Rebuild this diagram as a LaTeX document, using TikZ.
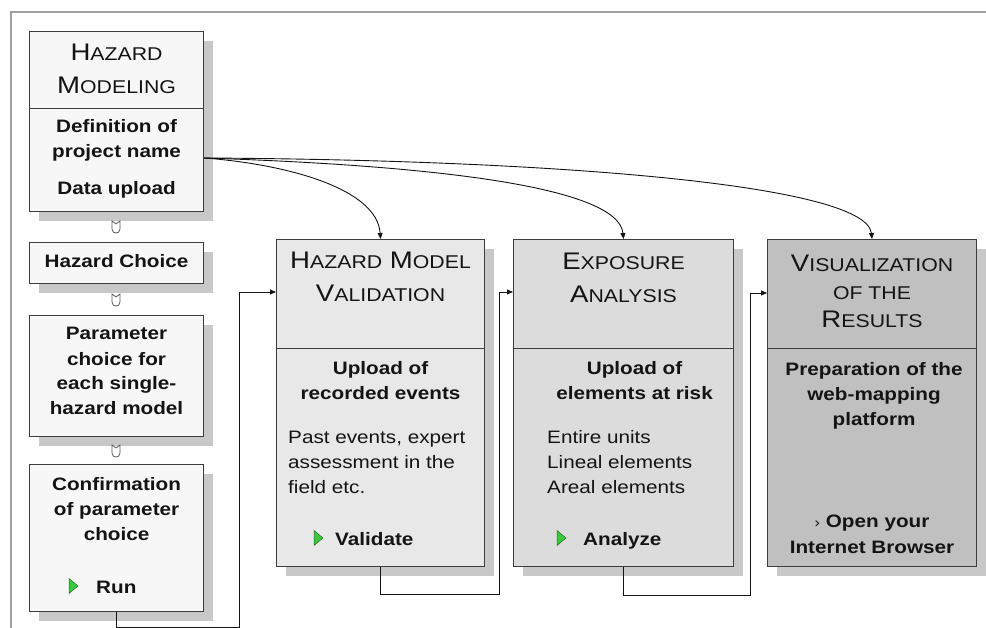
\documentclass[tikz,border=0pt]{standalone}
\usepackage{fontspec}
\setmainfont[FakeStretch=1.15]{Liberation Sans}
\usetikzlibrary{calc,arrows.meta,shadows}

\definecolor{framegray}{HTML}{A0A0A0}
\definecolor{edgegray}{HTML}{3C3C3C}
\definecolor{inkblack}{HTML}{141414}
\definecolor{paperwhite}{HTML}{F7F7F7}
\definecolor{validgray}{HTML}{E8E8E8}
\definecolor{expogray}{HTML}{DCDCDC}
\definecolor{visgray}{HTML}{C0C0C0}
\definecolor{shadowgray}{HTML}{C8C8C8}
\definecolor{playgreen}{HTML}{3CC83C}

% faked small caps: big first letter, rest in smaller capitals
\newcommand{\capword}[2]{{\fontsize{24}{24}\selectfont #1}{\fontsize{18.5}{18.5}\selectfont #2}}

\begin{document}
\begin{tikzpicture}[
        %We work in points, y running downwards
        x=1pt, y=-1pt,
        frame line/.style={draw=framegray, line width=1.5pt},
        stage box/.style={draw=edgegray, line width=1.1pt, inner sep=0pt, anchor=north west,
            drop shadow={shadow xshift=9pt, shadow yshift=-9pt, fill=shadowgray, opacity=1}},
        divider line/.style={draw=edgegray, line width=0.9pt},
        % text nodes sit on the baseline of their last line
        title text/.style={anchor=base, align=center, inner sep=0pt, text=inkblack,
            font=\fontsize{24}{33}\selectfont},
        body text/.style={anchor=base, align=center, inner sep=0pt, text=inkblack,
            font=\bfseries\fontsize{18}{25}\selectfont},
        list text/.style={anchor=base west, align=left, inner sep=0pt, text=inkblack,
            font=\fontsize{18}{25}\selectfont},
        flow line/.style={draw=inkblack, line width=0.9pt, ->, >={Triangle[length=6pt,width=5pt]}},
        playmark/.pic={
            \filldraw[fill=playgreen, draw=playgreen!55!black, line width=0.5pt]
                (0,-7.5) -- (9,0) -- (0,7.5) -- cycle;
        },
        linkmark/.pic={
            \filldraw[fill=white, draw=black!65, line width=0.8pt]
                (-4,-6) -- (0,-3) -- (4,-6) -- (4,2) .. controls (4,5) and (2,6) .. (0,6)
                .. controls (-2,6) and (-4,5) .. (-4,2) -- cycle;
        }
]
\useasboundingbox (0,0) rectangle (986,628);

% frame round the page
\draw[frame line] (11,628) -- (11,12) -- (986,12);

% left column of steps
\node[stage box, fill=paperwhite, minimum width=174pt, minimum height=180pt] (hazard) at (29,31) {};
\node[stage box, fill=paperwhite, minimum width=174pt, minimum height=41pt] (choice) at (29,242) {};
\node[stage box, fill=paperwhite, minimum width=174pt, minimum height=121pt] (param) at (29,315) {};
\node[stage box, fill=paperwhite, minimum width=174pt, minimum height=147pt] (confirm) at (29,464) {};

\draw[divider line] ($(hazard.north west)+(0,77)$) -- ($(hazard.north east)+(0,77)$);

\node[title text] (hazard title) at ($(hazard.north)+(0,63)$) {\capword{H}{AZARD}\\\capword{M}{ODELING}};
\node[body text] (hazard body) at ($(hazard.north)+(0,164)$) {Definition of\\project name\\[12pt]Data upload};
\node[body text] (choice body) at ($(choice.north)+(0,26)$) {Hazard Choice};
\node[body text] (param body) at ($(param.north)+(0,100)$) {Parameter\\choice for\\each single-\\hazard model};
\node[body text] (confirm body) at ($(confirm.north)+(0,76)$) {Confirmation\\of parameter\\choice};
\pic at ($(confirm.north west)+(40,122)$) {playmark};
\node[body text, anchor=base west] (run) at ($(confirm.north west)+(67,129)$) {Run};

% little link marks between the steps
\pic at (116,227) {linkmark};
\pic at (116,300) {linkmark};
\pic at (116,451) {linkmark};

% the three main stages
\node[stage box, fill=validgray, minimum width=208pt, minimum height=327pt] (valid) at (276,239) {};
\node[stage box, fill=expogray, minimum width=220pt, minimum height=327pt] (expo) at (513,239) {};
\node[stage box, fill=visgray, minimum width=209pt, minimum height=327pt] (visual) at (767,239) {};

\foreach \stage in {valid,expo,visual}
    \draw[divider line] ($(\stage.north west)+(0,109)$) -- ($(\stage.north east)+(0,109)$);

% validation
\node[title text] (valid title) at ($(valid.north)+(0,63)$) {\capword{H}{AZARD} \capword{M}{ODEL}\\\capword{V}{ALIDATION}};
\node[body text] (valid body) at ($(valid.north)+(0,161)$) {Upload of\\recorded events};
\node[list text] (valid list) at ($(valid.north west)+(12,254)$) {Past events, expert\\assessment in the\\field etc.};
\pic at ($(valid.north west)+(38,299)$) {playmark};
\node[body text, anchor=base west] (validate) at ($(valid.north west)+(59,306)$) {Validate};

% exposure
\node[title text] (expo title) at ($(expo.north)+(0,64)$) {\capword{E}{XPOSURE}\\\capword{A}{NALYSIS}};
\node[body text] (expo body) at ($(expo.north)+(11,161)$) {Upload of\\elements at risk};
\node[list text] (expo list) at ($(expo.north west)+(34,254)$) {Entire units\\Lineal elements\\Areal elements};
\pic at ($(expo.north west)+(44,299)$) {playmark};
\node[body text, anchor=base west] (analyze) at ($(expo.north west)+(70,306)$) {Analyze};

% visualization
\node[title text, font=\fontsize{24}{28}\selectfont] (visual title) at ($(visual.north)+(0,89)$)
    {\capword{V}{ISUALIZATION}\\{\fontsize{18.5}{18.5}\selectfont OF THE}\\\capword{R}{ESULTS}};
\node[body text] (visual body) at ($(visual.north)+(2,186)$) {Preparation of the\\web-mapping\\platform};
\node[body text, font=\bfseries\fontsize{18}{26}\selectfont] (browser) at ($(visual.north)+(0,314)$)
    {{\mdseries\fontsize{14}{14}\selectfont ›} Open your\\Internet Browser};

% hand-over lines between the stages
\coordinate (hazard out) at ($(hazard.north east)+(0,127)$);
\coordinate (valid in) at ($(valid.north west)+(0,53)$);
\coordinate (expo in) at ($(expo.north west)+(0,53)$);
\coordinate (visual in) at ($(visual.north west)+(0,54)$);

\draw[flow line] (confirm.south) -- ++(0,15) -| ($(valid in)+(-37,0)$) -- (valid in);
\draw[flow line] (valid.south) -- ++(0,27) -| ($(expo in)+(-14,0)$) -- (expo in);
\draw[flow line] (expo.south) -- ++(0,28) -| ($(visual in)+(-17,0)$) -- (visual in);

% the project data feeds every stage
\draw[flow line] (hazard out) .. controls (285,164) and (377,188) .. (valid.north);
\draw[flow line] (hazard out) .. controls (420,165) and (618,185) .. (expo.north);
\draw[flow line] (hazard out) .. controls (560,160) and (866,185) .. (visual.north);
\end{tikzpicture}
\end{document}
